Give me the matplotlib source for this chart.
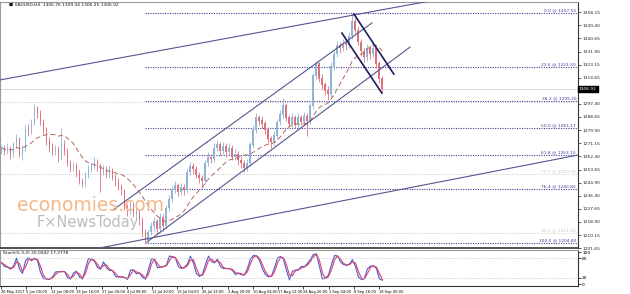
import matplotlib.pyplot as plt
import numpy as np
import pandas as pd

# XAUUSD H4 closes (one candle per ~4 bars)
closes = [1268, 1266, 1268, 1264, 1270, 1274, 1264, 1268, 1281, 1279,
          1284, 1295, 1291, 1285, 1280, 1272, 1268, 1266, 1267, 1262,
          1270, 1266, 1258, 1255, 1256, 1252, 1246, 1244, 1250, 1254,
          1256, 1259, 1256, 1252, 1254, 1250, 1253, 1249, 1246, 1242,
          1240, 1229, 1226, 1230, 1224, 1226, 1220, 1212, 1207, 1212,
          1216, 1219, 1214, 1222, 1216, 1228, 1234, 1240, 1243, 1239,
          1242, 1240, 1252, 1256, 1254, 1250, 1248, 1246, 1258, 1262,
          1261, 1268, 1270, 1266, 1269, 1265, 1268, 1262, 1264, 1260,
          1258, 1255, 1258, 1270, 1280, 1288, 1286, 1284, 1280, 1274,
          1272, 1276, 1285, 1290, 1296, 1288, 1284, 1288, 1283, 1288,
          1285, 1289, 1286, 1296, 1316, 1324, 1314, 1310, 1306, 1304,
          1322, 1330, 1336, 1334, 1337, 1336, 1342, 1352, 1346, 1338,
          1332, 1328, 1334, 1330, 1334, 1324, 1314, 1306.92]
highs = [1270, 1270, 1271, 1269, 1272, 1277, 1275, 1270, 1283, 1284,
         1287, 1297, 1296, 1293, 1287, 1282, 1275, 1271, 1270, 1269,
         1281, 1273, 1268, 1260, 1259, 1258, 1254, 1248, 1252, 1257,
         1259, 1262, 1261, 1258, 1257, 1256, 1256, 1255, 1251, 1248,
         1244, 1241, 1231, 1233, 1232, 1229, 1227, 1222, 1214, 1214,
         1219, 1222, 1221, 1225, 1224, 1230, 1237, 1243, 1246, 1245,
         1245, 1244, 1254, 1259, 1258, 1256, 1252, 1250, 1260, 1265,
         1264, 1271, 1273, 1272, 1272, 1271, 1271, 1270, 1267, 1266,
         1262, 1260, 1261, 1272, 1283, 1291, 1290, 1289, 1286, 1282,
         1276, 1279, 1287, 1293, 1301, 1298, 1290, 1291, 1290, 1291,
         1290, 1292, 1291, 1298, 1318, 1326, 1325, 1317, 1312, 1309,
         1325, 1333, 1339, 1338, 1340, 1339, 1345, 1357.55, 1354, 1348,
         1340, 1334, 1337, 1336, 1336, 1335, 1326, 1316]
lows = [1264, 1263, 1264, 1261, 1262, 1268, 1262, 1260, 1266, 1276,
        1277, 1283, 1288, 1283, 1277, 1270, 1265, 1263, 1263, 1259,
        1260, 1263, 1256, 1252, 1253, 1249, 1244, 1242, 1242, 1248,
        1252, 1254, 1253, 1239, 1250, 1248, 1248, 1247, 1243, 1240,
        1237, 1227, 1223, 1224, 1222, 1221, 1217, 1209, 1204.8, 1205,
        1210, 1213, 1211, 1212, 1213, 1214, 1226, 1232, 1238, 1236,
        1237, 1237, 1238, 1250, 1251, 1248, 1245, 1243, 1244, 1256,
        1258, 1259, 1266, 1263, 1264, 1262, 1263, 1260, 1260, 1257,
        1255, 1252, 1253, 1256, 1268, 1278, 1283, 1281, 1277, 1271,
        1268, 1270, 1274, 1283, 1288, 1286, 1282, 1282, 1281, 1281,
        1283, 1283, 1276, 1284, 1294, 1313, 1312, 1307, 1303, 1300,
        1302, 1320, 1328, 1331, 1332, 1333, 1334, 1340, 1344, 1336,
        1329, 1325, 1326, 1327, 1328, 1321, 1311, 1304.5]
first_open = 1266

# price axis labels and date labels
price_ticks = [1358.15, 1349.40, 1340.65, 1331.90, 1323.15, 1314.65, 1297.40,
               1288.65, 1279.90, 1271.15, 1262.40, 1253.65, 1244.90, 1236.40,
               1227.65, 1218.90, 1210.15, 1201.65]
date_pos = [0, 8.2, 16.5, 24.8, 33.5, 41.8, 50.2, 58.5, 66.8, 75.5, 83.8, 92.2,
            100.5, 109.2, 117.5, 125.8]
date_labels = ["26 May 2017", "5 Jun 00:00", "12 Jun 08:00", "19 Jun 16:00",
               "27 Jun 00:00", "4 Jul 08:00", "11 Jul 20:00", "19 Jul 04:00",
               "26 Jul 12:00", "2 Aug 20:00", "10 Aug 04:00", "17 Aug 12:00",
               "24 Aug 20:00", "1 Sep 04:00", "8 Sep 16:00", "18 Sep 00:00"]

# fibonacci retracement 1357.55 -> 1204.80
fib_ratios = [0.0, 23.6, 38.2, 50.0, 61.8, 76.4, 100.0]
fib_high, fib_low = 1357.55, 1204.80
fib_start = 48
gray_levels = [1298.5, 1250.7, 1211.6]
gray_labels = ["", "70.7 @ 1250.70", "95.1 @ 1211.60"]

# trend lines: (bar index, price) anchors and the bar where each line stops
trend_lines = [((-0.5, 1313.1), (117.5, 1356.2)),
               ((32.8, 1201.7), (192.2, 1263.3)),
               ((37.2, 1226.9), (123.5, 1350.9)),
               ((48.5, 1205.6), (136.2, 1334.9))]
trend_ends = [150, 192.2, 123.5, 136.2]
falling_lines = [((117.5, 1356.8), (130.8, 1317.0)),
                 ((113.5, 1344.2), (126.8, 1304.4))]

header = "XAUUSD,H4  1306.76 1309.34 1306.25 1306.92"
stoch_header = "Stoch(5,3,3) 20.0042 17.2778"

c = np.array(closes, dtype=float)
h = np.array(highs, dtype=float)
l = np.array(lows, dtype=float)
o = np.concatenate([[first_open], c[:-1]])
idx = np.arange(len(c))

ma = pd.Series(c).rolling(14, min_periods=1).mean()

hh = pd.Series(h).rolling(2, min_periods=1).max()
ll = pd.Series(l).rolling(2, min_periods=1).min()
k = 100 * (pd.Series(c) - ll) / (hh - ll)
k = k.rolling(2, min_periods=1).mean()
d = k.rolling(2, min_periods=1).mean()

W, H = 630, 294
fig = plt.figure(figsize=(6.3, 2.94), dpi=100)
ax = fig.add_axes([0, 1 - 248 / H, 578 / W, 246 / H])
ax2 = fig.add_axes([0, 1 - 286 / H, 578 / W, 36 / H])

xmin, xmax = -0.5, 192.2
fs = 3.2
line_col = "#55558f"
fib_col = "#40409a"

# candles
up = c >= o
bull_col, bear_col = "#8fb4d6", "#e0707c"
colors = np.where(up, bull_col, bear_col)
ax.vlines(idx, l, h, colors=colors, lw=0.6, zorder=3)
ax.bar(idx, np.abs(c - o) + 0.3, bottom=np.minimum(o, c), width=0.65,
       color=colors, lw=0, zorder=4)

ax.plot(idx, ma, color="#b06860", lw=0.7, ls=(0, (5, 3)), zorder=5)

# fib levels
for r in fib_ratios:
    lv = fib_high - (fib_high - fib_low) * r / 100
    ax.hlines(lv, fib_start, xmax, colors=fib_col, lw=0.8, ls=(0, (1, 1.2)), zorder=2)
    ax.text(191.6, lv + 0.6, "%.1f @ %.2f" % (r, lv), color=fib_col,
            fontsize=fs, ha="right", va="bottom", zorder=6)
for lv, lab in zip(gray_levels, gray_labels):
    ax.hlines(lv, xmin, xmax, colors="#cfcfcf", lw=0.7, ls=(0, (1, 1.2)), zorder=1)
    if lab:
        ax.text(191.6, lv + 0.6, lab, color="#c4c4c4", fontsize=fs,
                ha="right", va="bottom", zorder=6)

ax.axhline(closes[-1], color="#d4d4d4", lw=0.6, zorder=1)

for ((x0, y0), (x1, y1)), xe in zip(trend_lines, trend_ends):
    s = (y1 - y0) / (x1 - x0)
    ax.plot([x0, xe], [y0, y0 + s * (xe - x0)], color=line_col, lw=0.8, zorder=6)
for (x0, y0), (x1, y1) in falling_lines:
    ax.plot([x0, x1], [y0, y1], color="#1c1c5c", lw=1.2, zorder=6)

ax.set_xlim(xmin, xmax)
ax.set_ylim(1201.7, 1364.8)
ax.set_xticks([])
ax.yaxis.tick_right()
ax.set_yticks(price_ticks)
ax.set_yticklabels(["%.2f" % p for p in price_ticks])
ax.tick_params(axis="y", labelsize=fs, length=2, width=0.5, pad=1, colors="#222222")
ax.text(579 / 578, closes[-1], "%.2f" % closes[-1], transform=ax.get_yaxis_transform(),
        fontsize=fs, color="white", va="center", ha="left",
        bbox=dict(boxstyle="square,pad=0.25", fc="black", ec="black"), zorder=7)
ax.text(2.5, 1362.6, "\u25a0 " + header, fontsize=fs, color="#111111", va="center")

fig.text(17 / W, 1 - 211 / H, "economies.com", fontsize=13.5, color="#f6b887")
fig.text(37 / W, 1 - 227 / H, "F\u00d7NewsToday", fontsize=10.5, color="#bcbcbc")

for sp in ["left", "top"]:
    ax.spines[sp].set_color("#9a9a9a")
ax.spines["bottom"].set_color("#333333")
ax.spines["bottom"].set_linewidth(1.2)
ax.spines["right"].set_color("#333333")

# stochastic
ax2.plot(idx, k, color="#4a5ad0", lw=0.8)
ax2.plot(idx, d, color="#e0406a", lw=0.8)
for lv in [20, 80]:
    ax2.axhline(lv, color="#c8c8c8", lw=0.6, ls=(0, (1, 1.2)))
ax2.set_xlim(xmin, xmax)
ax2.set_ylim(-6.25, 106.25)
ax2.yaxis.tick_right()
ax2.set_yticks([100, 80, 20, 0])
ax2.tick_params(axis="y", labelsize=fs, length=2, width=0.5, pad=1)
ax2.set_xticks(date_pos)
ax2.set_xticklabels(date_labels, ha="left")
ax2.tick_params(axis="x", labelsize=2.6, length=2, width=0.5, pad=1)
ax2.text(0.5, 103, stoch_header, fontsize=fs, color="#111111", va="top")
for sp in ["left", "top"]:
    ax2.spines[sp].set_color("#9a9a9a")
ax2.spines["bottom"].set_color("#333333")
ax2.spines["right"].set_color("#333333")

fig.savefig("out.png", dpi=100)
